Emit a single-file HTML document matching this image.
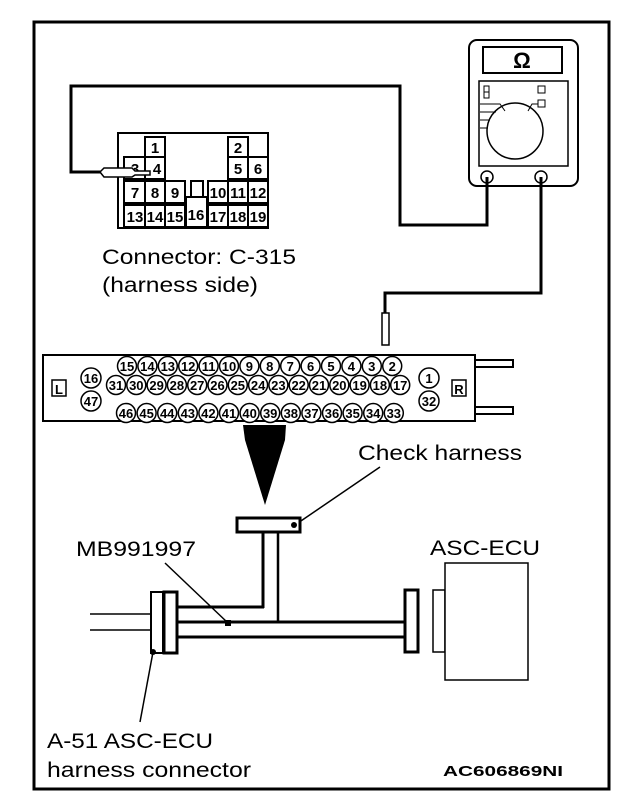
<!DOCTYPE html>
<html><head><style>
html,body{margin:0;padding:0;background:#fff;}
svg{display:block;}
text{font-family:"Liberation Sans",sans-serif;fill:#000;}
.c text{font-weight:bold;font-size:13px;text-anchor:middle;}
</style></head><body>
<svg width="640" height="808" viewBox="0 0 640 808" xmlns="http://www.w3.org/2000/svg">
<rect x="34" y="22" width="575" height="767" fill="none" stroke="#000" stroke-width="3"/>
<rect x="469" y="40" width="109" height="146" rx="8" fill="#fff" stroke="#000" stroke-width="2"/>
<rect x="483" y="47" width="79" height="26" fill="none" stroke="#000" stroke-width="2"/>
<text x="522" y="68" font-size="22" font-weight="bold" text-anchor="middle">Ω</text>
<rect x="479" y="81" width="89" height="85" fill="none" stroke="#000" stroke-width="1.5"/>
<rect x="484" y="86" width="5" height="6" fill="none" stroke="#000"/><rect x="484" y="92" width="5" height="6" fill="none" stroke="#000"/>
<rect x="538" y="86" width="7" height="7" fill="none" stroke="#000"/><rect x="538" y="100" width="7" height="7" fill="none" stroke="#000"/>
<circle cx="515" cy="131" r="28" fill="none" stroke="#000" stroke-width="1.5"/>
<polyline points="480,104 500,104 505,111" fill="none" stroke="#000"/>
<polyline points="538,104 532,104 528,111" fill="none" stroke="#000"/>
<line x1="480" y1="112" x2="496" y2="112" stroke="#000"/><line x1="480" y1="120" x2="490" y2="120" stroke="#000"/><line x1="480" y1="128" x2="488" y2="128" stroke="#000"/>
<circle cx="487" cy="177" r="6" fill="#fff" stroke="#000" stroke-width="1.5"/>
<circle cx="541" cy="177" r="6" fill="#fff" stroke="#000" stroke-width="1.5"/>
<polyline points="487,177 487,225 400,225 400,86 71,86 71,172 102,172" fill="none" stroke="#000" stroke-width="3"/>
<polyline points="541,177 541,293 385,293 385,314" fill="none" stroke="#000" stroke-width="3"/>
<rect x="382" y="313" width="7" height="32" fill="#fff" stroke="#000" stroke-width="1.5"/>
<g stroke="#000" stroke-width="2" fill="#fff">
<rect x="118" y="133" width="150" height="95" fill="none"/>
<rect x="145" y="137" width="20" height="20"/><rect x="228" y="137" width="20" height="20"/>
<rect x="124" y="157" width="21" height="22"/><rect x="145" y="157" width="20" height="22"/>
<rect x="228" y="157" width="20" height="22"/><rect x="248" y="157" width="20" height="22"/>
<rect x="124" y="181" width="21" height="22"/><rect x="145" y="181" width="20" height="22"/><rect x="165" y="181" width="20" height="22"/>
<rect x="208" y="181" width="20" height="22"/><rect x="228" y="181" width="20" height="22"/><rect x="248" y="181" width="20" height="22"/>
<rect x="124" y="205" width="21" height="22"/><rect x="145" y="205" width="20" height="22"/><rect x="165" y="205" width="20" height="22"/>
<rect x="186" y="197" width="21" height="30"/><rect x="191" y="181" width="12" height="16"/>
<rect x="208" y="205" width="20" height="22"/><rect x="228" y="205" width="20" height="22"/><rect x="248" y="205" width="20" height="22"/>
</g>
<g font-size="15" font-weight="bold" text-anchor="middle">
<text x="155" y="153">1</text><text x="238" y="153">2</text>
<text x="135" y="174">3</text><text x="157" y="174">4</text><text x="238" y="174">5</text><text x="258" y="174">6</text>
<text x="135" y="198">7</text><text x="155" y="198">8</text><text x="175" y="198">9</text><text x="218" y="198">10</text><text x="238" y="198">11</text><text x="258" y="198">12</text>
<text x="135" y="222">13</text><text x="155" y="222">14</text><text x="175" y="222">15</text><text x="196" y="220">16</text><text x="218" y="222">17</text><text x="238" y="222">18</text><text x="258" y="222">19</text>
</g>
<path d="M100,172 L104,168 L132,168 L135,171 L150,171 L150,175 L135,175 L132,177 L104,177 Z" fill="#fff" stroke="#000" stroke-width="1.5"/>
<text x="102" y="264" font-size="21" textLength="194" lengthAdjust="spacingAndGlyphs">Connector: C-315</text>
<text x="102" y="292" font-size="21" textLength="156" lengthAdjust="spacingAndGlyphs">(harness side)</text>
<rect x="43" y="355" width="432" height="66" fill="#fff" stroke="#000" stroke-width="2"/>
<rect x="475" y="360" width="38" height="7" fill="#fff" stroke="#000" stroke-width="2"/>
<rect x="475" y="407" width="38" height="7" fill="#fff" stroke="#000" stroke-width="2"/>
<rect x="52" y="380" width="14" height="16" fill="none" stroke="#000" stroke-width="1.5"/><text x="59" y="394" font-size="13" font-weight="bold" text-anchor="middle">L</text>
<rect x="452" y="380" width="14" height="16" fill="none" stroke="#000" stroke-width="1.5"/><text x="459" y="394" font-size="13" font-weight="bold" text-anchor="middle">R</text>
<g stroke="#000" stroke-width="1.5" fill="#fff">
<circle cx="91" cy="378" r="10"/><circle cx="91" cy="401" r="10"/><circle cx="429" cy="378" r="10"/><circle cx="429" cy="401" r="10"/>
</g>
<g class="c">
<text x="91" y="383">16</text><text x="91" y="406">47</text><text x="429" y="383">1</text><text x="429" y="406">32</text>
</g>
<g id="r1"></g>
<g id="r2"></g>
<g id="r3"></g>
<path d="M243,425 L286,425 L285,440 L265,505 L245,440 Z" fill="#000"/>
<text x="358" y="460" font-size="21" textLength="164" lengthAdjust="spacingAndGlyphs">Check harness</text>
<line x1="380" y1="467" x2="295" y2="525" stroke="#000" stroke-width="1.5"/>
<rect x="237" y="518" width="63" height="14" fill="#fff" stroke="#000" stroke-width="3"/>
<circle cx="294" cy="525" r="3" fill="#000"/>
<line x1="263" y1="532" x2="263" y2="608" stroke="#000" stroke-width="3"/>
<line x1="278" y1="532" x2="278" y2="622" stroke="#000" stroke-width="2.5"/>
<line x1="178" y1="607" x2="264" y2="607" stroke="#000" stroke-width="3"/>
<line x1="178" y1="622" x2="405" y2="622" stroke="#000" stroke-width="3"/>
<line x1="178" y1="637" x2="405" y2="637" stroke="#000" stroke-width="3"/>
<line x1="90" y1="614" x2="151" y2="614" stroke="#000" stroke-width="1.5"/>
<line x1="90" y1="630" x2="151" y2="630" stroke="#000" stroke-width="1.5"/>
<rect x="151" y="592" width="12" height="61" fill="#fff" stroke="#000" stroke-width="2"/>
<rect x="164" y="592" width="13" height="61" fill="#fff" stroke="#000" stroke-width="3"/>
<rect x="405" y="590" width="13" height="62" fill="#fff" stroke="#000" stroke-width="3"/>
<text x="76" y="556" font-size="21" textLength="120" lengthAdjust="spacingAndGlyphs">MB991997</text>
<line x1="165" y1="563" x2="228" y2="623" stroke="#000" stroke-width="1.5"/>
<rect x="225" y="620" width="6" height="6" fill="#000"/>
<text x="430" y="555" font-size="21" textLength="110" lengthAdjust="spacingAndGlyphs">ASC-ECU</text>
<rect x="433" y="590" width="12" height="62" fill="#fff" stroke="#000" stroke-width="1.5"/>
<rect x="445" y="563" width="83" height="117" fill="#fff" stroke="#000" stroke-width="1.5"/>
<line x1="153" y1="652" x2="140" y2="722" stroke="#000" stroke-width="1.5"/>
<circle cx="153" cy="652" r="3" fill="#000"/>
<text x="47" y="748" font-size="21" textLength="166" lengthAdjust="spacingAndGlyphs">A-51 ASC-ECU</text>
<text x="47" y="777" font-size="21" textLength="204" lengthAdjust="spacingAndGlyphs">harness connector</text>
<text x="443" y="776" font-size="15" font-weight="bold" textLength="120" lengthAdjust="spacingAndGlyphs">AC606869NI</text>
</svg>
<script>
(function(){
var ns="http://www.w3.org/2000/svg";
function row(id,labels,x0,step,y){
 var g=document.getElementById(id);
 labels.forEach(function(l,i){
  var c=document.createElementNS(ns,"circle");
  c.setAttribute("cx",x0+i*step);c.setAttribute("cy",y);c.setAttribute("r",9.5);
  c.setAttribute("fill","#fff");c.setAttribute("stroke","#000");c.setAttribute("stroke-width","1.5");
  g.appendChild(c);
 });
 labels.forEach(function(l,i){
  var t=document.createElementNS(ns,"text");
  t.setAttribute("x",x0+i*step);t.setAttribute("y",y+5);
  t.setAttribute("text-anchor","middle");t.setAttribute("font-size","13");t.setAttribute("font-weight","bold");
  t.textContent=l;g.appendChild(t);
 });
}
row("r1",[15,14,13,12,11,10,9,8,7,6,5,4,3,2],127,20.4,366);
row("r2",[31,30,29,28,27,26,25,24,23,22,21,20,19,18,17],116,20.3,385);
row("r3",[46,45,44,43,42,41,40,39,38,37,36,35,34,33],126,20.6,413);
})();
</script>
</body></html>
